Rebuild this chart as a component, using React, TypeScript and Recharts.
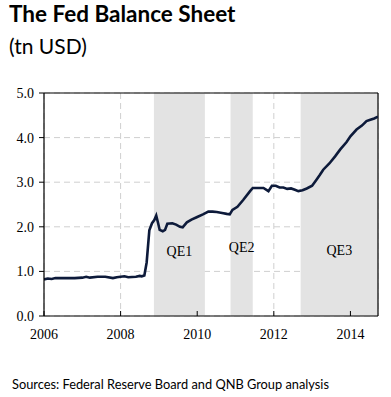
import { LineChart, Line, XAxis, YAxis, CartesianGrid, ReferenceArea, ReferenceLine } from "recharts";

// fractional year -> balance sheet size (tn USD)
const years = [
  2006.0, 2006.1, 2006.2, 2006.3, 2006.5, 2006.8, 2007.0, 2007.1, 2007.2, 2007.4,
  2007.6, 2007.8, 2007.9, 2008.0, 2008.1, 2008.2, 2008.4, 2008.5, 2008.55, 2008.62,
  2008.68, 2008.75, 2008.82, 2008.88, 2008.93, 2008.98, 2009.02, 2009.1, 2009.16, 2009.22,
  2009.35, 2009.45, 2009.55, 2009.62, 2009.73, 2009.85, 2010.0, 2010.15, 2010.29, 2010.4,
  2010.51, 2010.65, 2010.77, 2010.85, 2010.92, 2011.05, 2011.2, 2011.38, 2011.45, 2011.6,
  2011.73, 2011.86, 2011.95, 2012.05, 2012.15, 2012.25, 2012.35, 2012.45, 2012.55, 2012.64,
  2012.75, 2012.86, 2013.0, 2013.1, 2013.2, 2013.29, 2013.45, 2013.6, 2013.73, 2013.9,
  2014.0, 2014.16, 2014.3, 2014.42, 2014.52, 2014.62, 2014.72,
];
const balance = [
  0.82, 0.84, 0.83, 0.85, 0.85, 0.85, 0.86, 0.88, 0.86, 0.88,
  0.88, 0.85, 0.87, 0.88, 0.89, 0.87, 0.88, 0.90, 0.89, 0.91,
  1.20, 1.92, 2.08, 2.15, 2.25, 2.08, 1.93, 1.90, 1.93, 2.07,
  2.08, 2.05, 2.00, 1.99, 2.10, 2.16, 2.22, 2.28, 2.34, 2.34,
  2.33, 2.31, 2.29, 2.28, 2.38, 2.45, 2.60, 2.80, 2.87, 2.87,
  2.87, 2.80, 2.92, 2.92, 2.88, 2.88, 2.85, 2.86, 2.83, 2.80,
  2.82, 2.86, 2.92, 3.04, 3.16, 3.28, 3.42, 3.58, 3.73, 3.90,
  4.03, 4.18, 4.27, 4.37, 4.40, 4.43, 4.47,
];

const xTicks = [2006, 2008, 2010, 2012, 2014];
const yTicks = [0, 1, 2, 3, 4, 5];

// QE programmes (start, end, label)
const qeStart = [2008.87, 2010.87, 2012.7];
const qeEnd = [2010.2, 2011.45, 2014.72];
const qeLabels = ["QE1", "QE2", "QE3"];
const qeLabelOffset = [60, 64, 61];

const data = years.map((y, i) => ({ year: y, value: balance[i] }));

const serif = "'Liberation Serif', 'Times New Roman', serif";
const sans = "Lato, 'Open Sans', sans-serif";

export default function App() {
  return (
    <div style={{ position: "absolute", left: 0, top: 0, width: 391, height: 397, background: "#fff" }}>
      <div style={{ position: "absolute", left: 9, top: 0, fontFamily: sans, fontWeight: 700, fontSize: 22.5, color: "#000" }}>
        The Fed Balance Sheet
      </div>
      <div style={{ position: "absolute", left: 9, top: 33, fontFamily: sans, fontSize: 21, color: "#000" }}>
        (tn USD)
      </div>
      <LineChart
        width={391}
        height={397}
        data={data}
        margin={{ top: 93, right: 13, left: 0, bottom: 51 }}
      >
        {qeStart.map((s, i) => (
          <ReferenceArea
            key={qeLabels[i]}
            x1={s}
            x2={qeEnd[i]}
            y1={0}
            y2={5}
            fill="#e3e3e3"
            fillOpacity={1}
            stroke="none"
            label={{
              value: qeLabels[i],
              position: "insideBottom",
              offset: qeLabelOffset[i],
              style: { fontFamily: serif, fontSize: 14, fill: "#000" },
            }}
          />
        ))}
        <CartesianGrid stroke="#cfcfcf" strokeDasharray="6 4" />
        <XAxis
          dataKey="year"
          type="number"
          domain={[2006, 2014.72]}
          ticks={xTicks}
          tickSize={-5}
          tickMargin={18}
          axisLine={{ stroke: "#000", strokeWidth: 1.2 }}
          tickLine={{ stroke: "#000" }}
          tick={{ fill: "#000", fontFamily: serif, fontSize: 14 }}
          allowDataOverflow
        />
        <YAxis
          type="number"
          domain={[0, 5]}
          ticks={yTicks}
          width={44}
          tickSize={5}
          tickMargin={5}
          axisLine={{ stroke: "#000", strokeWidth: 1.2 }}
          tickLine={{ stroke: "#000" }}
          tick={{ fill: "#000", fontFamily: serif, fontSize: 14 }}
          tickFormatter={(v: number) => v.toFixed(1)}
        />
        <ReferenceLine y={5} stroke="#000" strokeWidth={1.2} />
        <ReferenceLine x={2014.72} stroke="#000" strokeWidth={1.2} />
        <Line
          dataKey="value"
          stroke="#0d1a3a"
          strokeWidth={2.6}
          dot={false}
          type="linear"
          isAnimationActive={false}
        />
      </LineChart>
      <div style={{ position: "absolute", left: 12, top: 376, fontFamily: sans, fontSize: 12.8, color: "#000" }}>
        Sources: Federal Reserve Board and QNB Group analysis
      </div>
    </div>
  );
}
